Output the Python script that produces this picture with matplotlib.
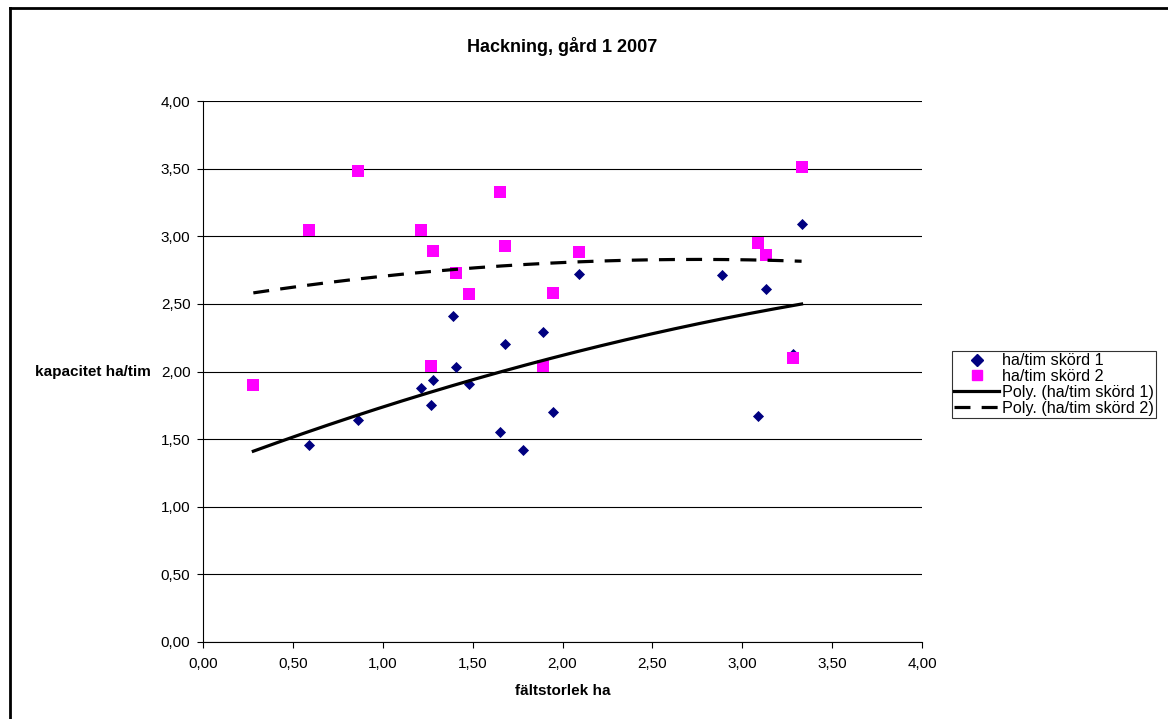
import numpy as np
import matplotlib.pyplot as plt
from matplotlib.ticker import FuncFormatter
from matplotlib.lines import Line2D

plt.rcParams['font.family'] = ['Liberation Sans', 'DejaVu Sans']

# data
x1 = [0.28, 0.59, 0.86, 1.21, 1.27, 1.28, 1.39, 1.41, 1.48, 1.65, 1.68, 1.78, 1.89, 1.945, 2.09, 2.89, 3.09, 3.13, 3.28, 3.33]
y1 = [1.90, 1.46, 1.64, 1.88, 1.75, 1.94, 2.41, 2.03, 1.91, 1.555, 2.20, 1.42, 2.29, 1.70, 2.72, 2.71, 1.67, 2.61, 2.13, 3.09]

x2 = [0.28, 0.59, 0.86, 1.21, 1.27, 1.28, 1.41, 1.48, 1.65, 1.68, 1.89, 1.945, 2.09, 3.09, 3.13, 3.28, 3.33]
y2 = [1.90, 3.05, 3.48, 3.05, 2.04, 2.89, 2.73, 2.57, 3.33, 2.93, 2.04, 2.58, 2.88, 2.95, 2.86, 2.10, 3.51]

# polynomial trendline of series 1 (x^2, x, 1)
trend1_coef = [-0.0416, 0.507, 1.272]

name1 = 'ha/tim skörd 1'
name2 = 'ha/tim skörd 2'

fig = plt.figure(figsize=(11.68, 7.19), dpi=100)
ax = fig.add_axes([0.1738, 0.1071, 0.6156, 0.7524])

t1 = np.linspace(min(x1), max(x1), 200)
t2 = np.linspace(min(x2), max(x2), 200)
c2 = np.polyfit(x2, y2, 2)

ax.scatter(x1, y1, marker='D', s=32, color='#000080', zorder=3, linewidths=0)
ax.scatter(x2, y2, marker='s', s=64, color='#FF00FF', zorder=4, linewidths=0)
ax.plot(t1, np.polyval(trend1_coef, t1), color='black', lw=2.3, zorder=5)
ax.plot(t2, np.polyval(c2, t2), color='black', lw=2.3, ls=(0, (5, 3.5)), zorder=5)

ax.set_xlim(0, 4)
ax.set_ylim(0, 4)
ax.set_xticks(np.arange(0, 4.01, 0.5))
ax.set_yticks(np.arange(0, 4.01, 0.5))
fmt = FuncFormatter(lambda v, p: f'{v:.2f}'.replace('.', ','))
ax.xaxis.set_major_formatter(fmt)
ax.yaxis.set_major_formatter(fmt)
ax.tick_params(labelsize=11, direction='out', length=4, width=0.8)
ax.tick_params(axis='x', pad=7)
ax.tick_params(axis='y', pad=5)
ax.grid(axis='y', color='black', lw=0.8)
ax.set_axisbelow(True)
for s in ['top', 'right']:
    ax.spines[s].set_visible(False)

ax.set_title('Hackning, gård 1 2007', fontsize=13, fontweight='bold', pad=35)
ax.set_xlabel('fältstorlek ha', fontsize=11, fontweight='bold', labelpad=9)
ax.set_ylabel('kapacitet ha/tim', fontsize=11, fontweight='bold', rotation=0,
              ha='right', va='center')
ax.yaxis.set_label_coords(-0.0725, 0.5)

handles = [
    Line2D([], [], marker='D', color='#000080', ls='none', markersize=6),
    Line2D([], [], marker='s', color='#FF00FF', ls='none', markersize=7.5),
    Line2D([], [], color='black', lw=2.3),
    Line2D([], [], color='black', lw=2.3, ls=(0, (5, 3.5))),
]
labels = [name1, name2, 'Poly. (' + name1 + ')', 'Poly. (' + name2 + ')']
leg = fig.legend(handles, labels, loc='upper left', bbox_to_anchor=(0.815, 0.512),
                 fontsize=11.6, frameon=True, fancybox=False, edgecolor='black',
                 handlelength=2.8, handletextpad=0.15, borderpad=0.15, labelspacing=0.05,
                 borderaxespad=0)
leg.get_frame().set_linewidth(0.8)

# chart border (top/left visible)
fig.add_artist(Line2D([0.0085, 0.0085], [0, 0.989], transform=fig.transFigure, color='black', lw=2))
fig.add_artist(Line2D([0.0085, 1], [0.989, 0.989], transform=fig.transFigure, color='black', lw=2))

fig.savefig('out.png', dpi=100)
